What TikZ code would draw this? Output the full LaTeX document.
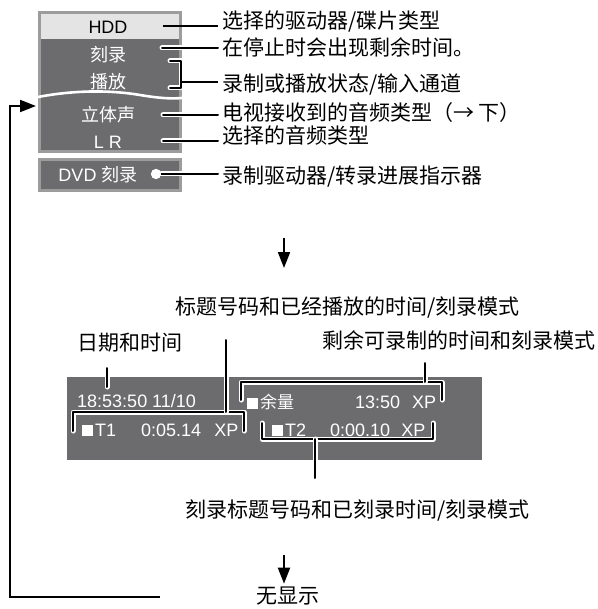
\documentclass[tikz,border=0pt]{standalone}
\usepackage{fontspec}
\setmainfont{Liberation Sans}
\newfontfamily\cjk{Noto Sans CJK SC}
\usepackage{tikz}
\usetikzlibrary{arrows.meta,positioning,calc}
\definecolor{dpdark}{HTML}{6C6C6E}
\definecolor{dpborder}{HTML}{9C9C9C}
\definecolor{dplight}{HTML}{E4E4E4}
\tikzset{
  dpitem/.style={font=\fontsize{18}{20}\selectfont,text=white,inner sep=0pt},
  dplabel/.style={anchor=west,font=\cjk\fontsize{21}{23}\selectfont,inner xsep=4pt,inner ysep=0pt},
  dpnote/.style={font=\cjk\fontsize{21}{23}\selectfont,inner sep=0pt},
  dpline/.style={line width=2pt},
  dphalo/.style={dpline,line cap=round,line join=round,
    preaction={draw=white,line width=5pt,line cap=round,line join=round}},
  dptip/.style={-{Triangle[length=16pt,width=12pt]}},
  dparrow/.style={dpline,dptip},
  dpwave/.style={draw=white,line width=2.6pt}
}
\newcommand{\sq}{\rule{11pt}{11pt}\hspace{2pt}}

\begin{document}
\begin{tikzpicture}[x=1pt,y=-1pt]
  \useasboundingbox (0,0) rectangle (597,609);

  % Display before the change
  \fill[dpborder] (38,11) rectangle (182,153);
  \fill[dplight] (41,14) rectangle (179,39);
  \fill[dpdark] (41,39) rectangle (179,150);
  \fill[dpborder] (38,158) rectangle (182,192);
  \fill[dpdark] (41,161) rectangle (179,189);
  \draw[dpwave] (38,97) .. controls (75,90) and (110,90) .. (140,95)
    .. controls (158,98) and (170,99) .. (182,98);

  \node[dpitem,text=black] (hdd) at (108,27) {HDD};
  \node[dpitem,font=\cjk\fontsize{18}{20}\selectfont] (rec) at (108,55) {刻录};
  \node[dpitem,font=\cjk\fontsize{18}{20}\selectfont] (play) at (108,82) {播放};
  \node[dpitem,font=\cjk\fontsize{18}{20}\selectfont] (stereo) at (108,115) {立体声};
  \node[dpitem] (lr) at (108,142) {L R};
  \node[dpitem] (dvd) at (98,175) {DVD {\cjk 刻录}};
  \node[circle,fill=white,minimum size=10pt,inner sep=0pt] (dot) at (156,174) {};

  \node[dplabel] (tdrive) at (218,22) {选择的驱动器/碟片类型};
  \node[dplabel] (tremain) at (218,47) {在停止时会出现剩余时间。};
  \node[dplabel] (tstate) at (218,85) {录制或播放状态/输入通道};
  \node[dplabel] (taudio) at (218,113) {电视接收到的音频类型（→ 下）};
  \node[dplabel] (tsel) at (218,135) {选择的音频类型};
  \node[dplabel] (tprog) at (218,177) {录制驱动器/转录进展指示器};

  \coordinate (khdd) at (163,26);
  \coordinate (krec) at (162,48);
  \coordinate (kstereo) at (163,115);
  \coordinate (klr) at (163,141);
  \coordinate (kbr) at (182,82);
  \draw[dpline] (khdd) -- (khdd -| tdrive.west);
  \draw[dphalo] (krec) -- (krec -| tremain.west);
  \draw[dphalo] (170,61) -- (181,61) -- (181,88) -- (170,88);
  \draw[dpline] (kbr) -- (kbr -| tstate.west);
  \draw[dphalo] (kstereo) -- (kstereo -| taudio.west);
  \draw[dphalo] (klr) -- (klr -| tsel.west);
  \draw[dphalo] (dot) -- (dot -| tprog.west);
  \node[circle,fill=white,minimum size=10pt,inner sep=0pt] at (dot) {};

  \coordinate (ka) at (284,238);
  \coordinate (kb) at (284,268);
  \draw[dparrow] (ka) -- (kb);

  % Display while playing
  \fill[dpdark] (67,377) rectangle (482,460);
  \node[dpitem,anchor=west] (date) at (77,401) {18:53:50 11/10};
  \node[dpitem,anchor=west] (rowa) at (82,430)
    {\sq T1\hspace{25pt}0:05.14\hspace{13pt}XP};
  \node[dpitem,anchor=west] (rowb) at (247,402)
    {\sq{\cjk\fontsize{17}{20}\selectfont 余量}\hspace{61pt}13:50\hspace{12pt}XP};
  \node[dpitem,anchor=west] (rowc) at (272,430)
    {\sq T2\hspace{24pt}0:00.10\hspace{11pt}XP};

  \node[dpnote,anchor=west] (ttitle) at (175,308) {标题号码和已经播放的时间/刻录模式};
  \node[dpnote,anchor=west] (tdate) at (77,343) {日期和时间};
  \node[dpnote,anchor=west] (tleft) at (322,340) {剩余可录制的时间和刻录模式};
  \node[dpnote,anchor=west] (trec) at (185,511) {刻录标题号码和已刻录时间/刻录模式};

  \draw[dphalo] (73,431) -- (73,412) -- (244,412) -- (244,431);
  \draw[dphalo] (241,400) -- (241,382) -- (442,382) -- (442,400);
  \draw[dphalo] (262,423) -- (262,439) -- (433,439) -- (433,423);

  \coordinate (kdate) at (107,368);
  \coordinate (ktitle) at (226,340);
  \coordinate (kleft) at (425,363);
  \coordinate (krecb) at (315,478);
  \draw[dphalo] (kdate) -- (107,387);
  \draw[dphalo] (ktitle) -- (226,412);
  \draw[dphalo] (kleft) -- (425,382);
  \draw[dphalo] (315,439) -- (krecb);

  % Nothing shown
  \node[dpnote] (tnone) at (288,596) {无显示};
  \coordinate (kc) at (284,555);
  \draw[dparrow] (kc) -- ([yshift=3pt]tnone.north -| kc);

  \coordinate (kloop) at (160,597);
  \coordinate (kback) at (36,106);
  \draw[dpline,dptip] (kloop) -- (10,597) -- (10,106) -- (kback);
\end{tikzpicture}
\end{document}
